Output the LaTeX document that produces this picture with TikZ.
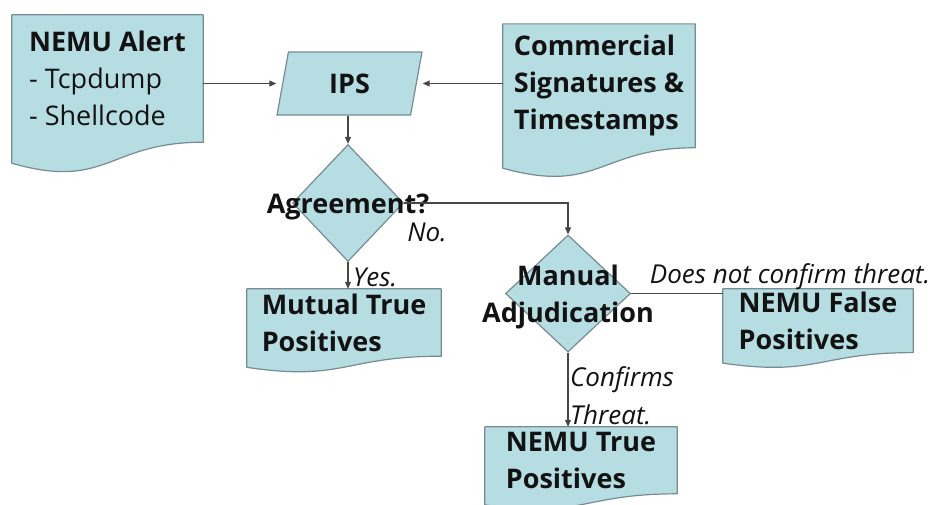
\documentclass[tikz,border=0pt]{standalone}
\usepackage{fontspec}
\setmainfont{Open Sans}
\usetikzlibrary{shapes.geometric,arrows.meta,backgrounds,calc}

\definecolor{boxfill}{RGB}{182,221,226}
\definecolor{boxline}{RGB}{118,140,146}
\definecolor{wire}{RGB}{70,70,70}
\definecolor{ink}{RGB}{18,18,18}

% flowchart "document" outline: straight top and sides, wavy bottom below the text area
\newcommand\docoutline[1]{%
  \path[docshape] let \p1=(#1.north west), \p2=(#1.south east) in
    (\x1,\y1) -- (\x2,\y1) -- (\x2,\y2)
    .. controls ({(\x1+\x2)/2},\y2) and ({(\x1+\x2)/2},{\y1+1.380*(\y2-\y1)}) ..
    (\x1,{\y1+1.165*(\y2-\y1)}) -- cycle;}

\tikzset{
  docshape/.style={fill=boxfill,draw=boxline,line width=1.2pt,line join=round},
  docbox/.style={rectangle,inner sep=0pt,align=left,text=ink,
    font=\fontsize{27}{37}\selectfont},
  decision/.style={diamond,fill=boxfill,draw=boxline,line width=1.2pt,inner sep=0pt},
  iobox/.style={trapezium,trapezium left angle=60,trapezium right angle=120,
    trapezium stretches body,fill=boxfill,draw=boxline,line width=1.2pt,inner sep=0pt,
    minimum width=145pt,minimum height=63pt,text=ink,
    font=\fontsize{27}{37}\selectfont\bfseries},
  boldtext/.style={text=ink,font=\fontsize{27}{37}\selectfont\bfseries,align=center,inner sep=0pt},
  note/.style={text=ink,font=\fontsize{26}{38}\selectfont\itshape,align=left,inner sep=0pt},
  flow/.style={draw=wire,line width=1.1pt,-{Triangle[length=7pt,width=6pt]}},
  plain/.style={draw=wire,line width=1.1pt},
}

\begin{document}
\begin{tikzpicture}[x=1pt,y=-1pt]
\useasboundingbox (0,0) rectangle (950,504);
\clip (0,0) rectangle (950,504);

% document boxes (text areas; the wavy bottoms are added on the background layer)
\node[docbox,minimum width=191pt,minimum height=127pt] (alert) at (107.5,78.5)
  {\textbf{NEMU Alert}\\- Tcpdump\\- Shellcode};
\node[docbox,minimum width=192pt,minimum height=123.5pt] (sigs) at (599,85.8)
  {\textbf{Commercial}\\\textbf{Signatures \&}\\\textbf{Timestamps}};
\node[docbox,minimum width=194pt,minimum height=67pt] (mutual) at (344,322.5)
  {\textbf{Mutual True}\\\textbf{Positives}};
\node[docbox,minimum width=190pt,minimum height=63.4pt] (falsepos) at (818,320.7)
  {\textbf{NEMU False}\\\textbf{Positives}};
\node[docbox,minimum width=192pt,minimum height=66.6pt] (truepos) at (581,460.3)
  {\textbf{NEMU True}\\\textbf{Positives}};

% input and decisions
\node[iobox] (ips) at (349.5,83.5) {IPS};
\node[decision,minimum width=111pt,minimum height=117pt] (agree) at (348,203) {};
\node[boldtext] at ($(agree.center)+(0,3.5)$) {Agreement?};
\node[decision,minimum width=125pt,minimum height=117pt] (manual) at (568,293.5) {};
\node[boldtext] at ($(manual.center)+(0,3)$) {Manual\\Adjudication};

\begin{scope}[on background layer]
  \docoutline{alert}
  \docoutline{sigs}
  \docoutline{mutual}
  \docoutline{falsepos}
  \docoutline{truepos}
\end{scope}

% connectors
\draw[flow] (alert.east |- ips.center) -- (ips.bottom left corner |- ips.center);
\draw[flow] (sigs.west |- ips.center) -- (ips.top right corner |- ips.center);
\draw[flow] (agree.north |- ips.south) -- (agree.north);
\draw[flow] (agree.east) -| (manual.north);
\draw[flow] (agree.south) -- (agree.south |- mutual.north);
\draw[plain] (manual.east) -- (falsepos.west |- manual.east);
\draw[flow] (manual.south) -- (manual.south |- truepos.north);

% branch labels
\node[note] (nolbl) at (427,232) {No.};
\node[note,anchor=west] (yeslbl) at (353,277) {Yes.};
\node[note] (notlbl) at (790,277) {Does not confirm threat.};
\node[note,anchor=west] (conflbl) at (570,396) {Confirms\\Threat.};
\end{tikzpicture}
\end{document}
